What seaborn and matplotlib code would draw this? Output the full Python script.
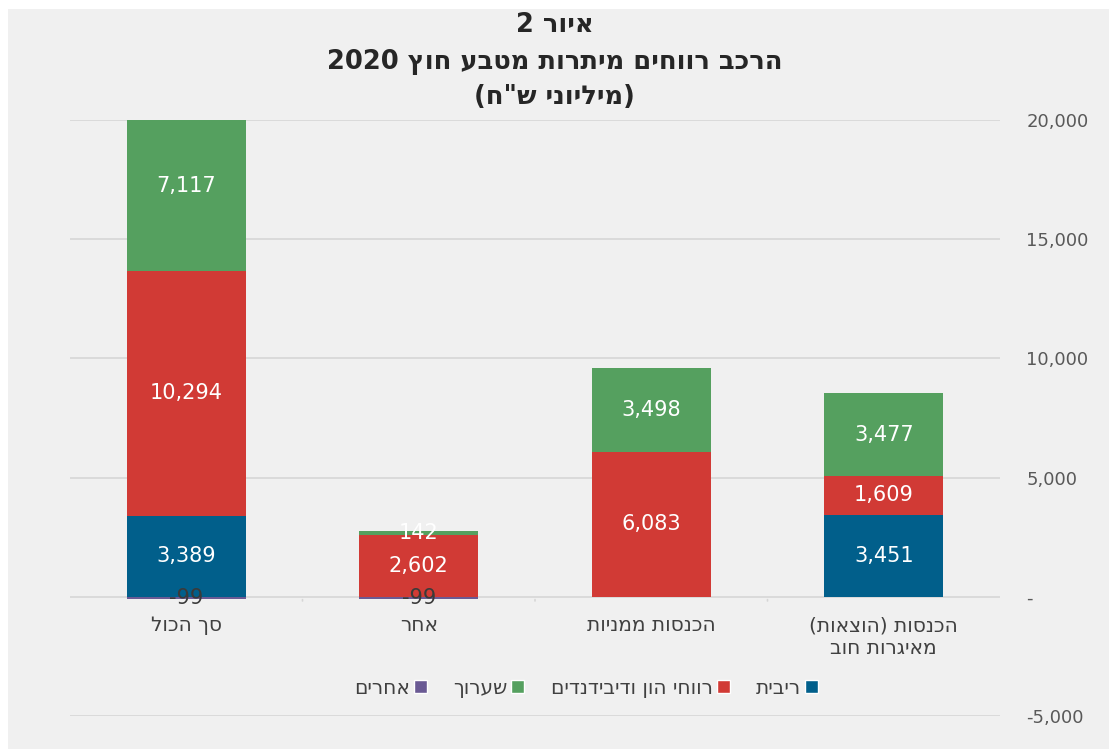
import re
import numpy as np
import pandas as pd
import matplotlib
matplotlib.use("Agg")
import matplotlib.pyplot as plt
from matplotlib.patches import Rectangle, Patch
import seaborn as sns

# ---------------- data ----------------
title_lines = ["איור 2", "הרכב רווחים מיתרות מטבע חוץ 2020", "(מיליוני ש\"ח)"]
categories = ["הכנסות (הוצאות)\nמאיגרות חוב", "הכנסות ממניות", "אחר", "סך הכול"]
series_names = ["ריבית", "רווחי הון ודיבידנדים", "שערוך", "אחרים"]
interest = [3451, 0, 0, 3389]
capital_gains = [1609, 6083, 2602, 10294]
revaluation = [3477, 3498, 142, 7117]
others = [0, 0, -99, -99]
y_ticks = [-5000, 0, 5000, 10000, 15000, 20000]
y_tick_labels = ["-5,000", "-", "5,000", "10,000", "15,000", "20,000"]

colors = {"ריבית": "#015f8b", "רווחי הון ודיבידנדים": "#d13a35",
          "שערוך": "#55a05f", "אחרים": "#6a5a94"}

MIRROR = {"(": ")", ")": "("}


def bidi(s):
    """Small logical->visual conversion for Hebrew text with numbers
    (matplotlib lays glyphs out left to right without bidi)."""
    out_lines = []
    for line in s.split("\n"):
        tokens = re.findall(r"[0-9A-Za-z.,]+|[^0-9A-Za-z.,]+", line)
        vis = []
        for t in reversed(tokens):
            if re.match(r"[0-9A-Za-z.,]", t):
                vis.append(t)
            else:
                vis.append("".join(MIRROR.get(c, c) for c in reversed(t)))
        out_lines.append("".join(vis))
    return "\n".join(out_lines)


sns.set_theme(style="white")
plt.rcParams["font.family"] = ["DejaVu Sans"]

fig = plt.figure(figsize=(11.09, 7.49), dpi=100, facecolor="white")
bg = Rectangle((8 / 1109, 0), 1, 1 - 9 / 749, transform=fig.transFigure,
               facecolor="#f0f0f0", edgecolor="none", zorder=-10)
fig.patches.append(bg)
ax = fig.add_axes([70 / 1109, 1 - 716 / 749, 930 / 1109, 596 / 749])
ax.set_facecolor("#f0f0f0")
ax.set_zorder(1)

disp_order = list(reversed(categories))
df = pd.DataFrame({"cat": categories, "interest": interest, "cap": capital_gains,
                   "rev": revaluation, "oth": others})
df["top3"] = df["interest"] + df["cap"] + df["rev"]
df["top2"] = df["interest"] + df["cap"]

W = 0.51
sns.barplot(data=df, x="cat", y="top3", order=disp_order, color=colors["שערוך"],
            saturation=1, width=W, ax=ax, zorder=2, edgecolor="none")
sns.barplot(data=df, x="cat", y="top2", order=disp_order, color=colors["רווחי הון ודיבידנדים"],
            saturation=1, width=W, ax=ax, zorder=3, edgecolor="none")
sns.barplot(data=df, x="cat", y="interest", order=disp_order, color=colors["ריבית"],
            saturation=1, width=W, ax=ax, zorder=4, edgecolor="none")
sns.barplot(data=df, x="cat", y="oth", order=disp_order, color=colors["אחרים"],
            saturation=1, width=W, ax=ax, zorder=5, edgecolor="none")

ax.set_ylim(-5000, 20000)
ax.set_xlim(-0.5, len(categories) - 0.5)
ax.set_xlabel("")
ax.set_ylabel("")

# grid lines
for t in y_ticks:
    ax.axhline(t, color="#d6d6d6", lw=1.2, zorder=1)

# y axis on the right
ax.yaxis.tick_right()
ax.set_yticks(y_ticks)
ax.set_yticklabels(y_tick_labels, fontsize=13, color="#595959")
ax.tick_params(axis="y", length=0, pad=19)
for sp in ax.spines.values():
    sp.set_visible(False)

# category labels under zero line + separator ticks
ax.set_xticks([])
for i, c in enumerate(disp_order):
    ax.annotate(bidi(c), xy=(i, 0), xycoords="data", xytext=(0, -14), textcoords="offset points",
                ha="center", va="top", fontsize=14.5, color="#404040", linespacing=1.25)
for i in range(len(disp_order) - 1):
    ax.annotate("", xy=(i + 0.5, 0), xycoords="data", xytext=(0, -5), textcoords="offset points",
                arrowprops=dict(arrowstyle="-", color="#d6d6d6", lw=1.2))

# value labels
for i, c in enumerate(disp_order):
    r = df[df["cat"] == c].iloc[0]
    segs = [(0, r["interest"]), (r["interest"], r["interest"] + r["cap"]),
            (r["interest"] + r["cap"], r["top3"])]
    for lo, hi in segs:
        v = hi - lo
        if v != 0:
            mid = (lo + hi) / 2
            ax.text(i, mid, f"{v:,.0f}", ha="center", va="center", color="white",
                    fontsize=15, zorder=6)
    if r["oth"] != 0:
        ax.text(i, r["oth"] / 2, f"{r['oth']:,.0f}", ha="center", va="center",
                color="#3a3a3a", fontsize=15, zorder=6)

# title
title_y = [1 - 25 / 749, 1 - 62 / 749, 1 - 97 / 749]
for t, y in zip(title_lines, title_y):
    fig.text(0.5, y, bidi(t), ha="center", va="center", fontsize=18.5, fontweight="bold",
             color="#262626")

# legend (RTL order: rightmost first)
handles = [Patch(facecolor=colors[n]) for n in reversed(series_names)]
labels = [bidi(n) for n in reversed(series_names)]
leg = fig.legend(handles, labels, loc="center", bbox_to_anchor=(586 / 1109, 1 - 688 / 749),
                 ncol=4, frameon=False, fontsize=14.5, handlelength=0.65, handleheight=0.65,
                 handletextpad=0.2, columnspacing=1.3, markerfirst=False)
leg.set_zorder(5)
for txt in leg.get_texts():
    txt.set_color("#404040")

fig.savefig("out.png", dpi=100, facecolor=fig.get_facecolor())
